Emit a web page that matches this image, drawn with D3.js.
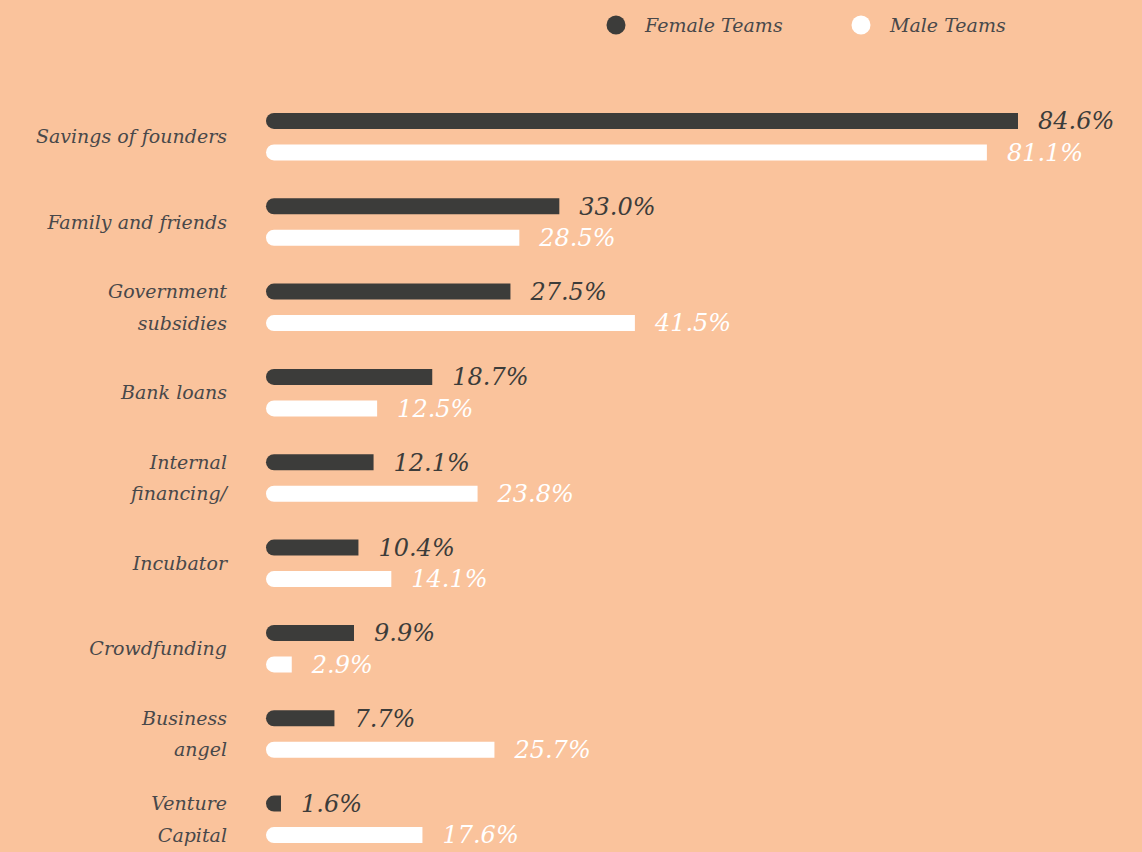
<!DOCTYPE html>
<html><head><meta charset="utf-8">
<script src="https://cdn.jsdelivr.net/npm/d3@7"></script>
<style>
html,body{margin:0;padding:0;background:#FAC39C;}
svg{display:block;}
text{font-family:"DejaVu Serif",serif;font-style:italic;}
</style></head>
<body>
<script>
const categories = [["Savings of founders"],["Family and friends"],["Government","subsidies"],["Bank loans"],["Internal","financing/"],["Incubator"],["Crowdfunding"],["Business","angel"],["Venture","Capital"]];
const femaleValues = [84.6,33.0,27.5,18.7,12.1,10.4,9.9,7.7,1.6];
const maleValues = [81.1,28.5,41.5,12.5,23.8,14.1,2.9,25.7,17.6];
const seriesNames = ["Female Teams","Male Teams"];
const seriesColors = ["#3C3C3A","#FFFFFF"];

const W=1142,H=852;
const svg=d3.select("body").append("svg").attr("width",W).attr("height",H);
svg.append("rect").attr("width",W).attr("height",H).attr("fill","#FAC39C");

const x=d3.scaleLinear().domain([0,84.6]).range([266,1018]);
const y=d3.scaleBand().domain(d3.range(categories.length)).range([94,862]).paddingInner(0).paddingOuter(0);
const barH=16, gap=31.5;
const textColor="#48484a";

function barPath(x0,x1,yc,h){
  const r=h/2;
  return `M${x0+r},${yc-r} L${x1},${yc-r} L${x1},${yc+r} L${x0+r},${yc+r} A${r},${r} 0 0 1 ${x0+r},${yc-r} Z`;
}

const g=svg.append("g");
categories.forEach((cat,i)=>{
  const top=y(i)+y.bandwidth()/2-gap/2;
  const yf=top, ym=top+gap;
  [[femaleValues[i],yf,0],[maleValues[i],ym,1]].forEach(([v,yc,s])=>{
    let x1=Math.max(x(v),x(0)+barH/2+7);
    g.append("path").attr("d",barPath(x(0),x1,yc,barH)).attr("fill",seriesColors[s]);
    g.append("text").attr("x",x1+20).attr("y",yc).attr("dy","0.35em")
      .attr("font-size",24).attr("fill",s===0?"#3C3C3A":"#FFFFFF").text(v.toFixed(1)+"%");
  });
  const lab=g.append("text").attr("text-anchor","end").attr("font-size",19).attr("fill",textColor);
  if(cat.length===1){
    lab.append("tspan").attr("x",227).attr("y",(yf+ym)/2).attr("dy","0.35em").text(cat[0]);
  } else {
    lab.append("tspan").attr("x",227).attr("y",yf).attr("dy","0.35em").text(cat[0]);
    lab.append("tspan").attr("x",227).attr("y",ym).attr("dy","0.35em").text(cat[1]);
  }
});

// legend
const leg=svg.append("g");
const legX=[616,861];
seriesNames.forEach((n,i)=>{
  leg.append("circle").attr("cx",legX[i]).attr("cy",25).attr("r",9.5).attr("fill",seriesColors[i]);
  leg.append("text").attr("x",legX[i]+29).attr("y",25).attr("dy","0.35em").attr("font-size",19).attr("fill",textColor).text(n);
});
</script>
</body></html>
